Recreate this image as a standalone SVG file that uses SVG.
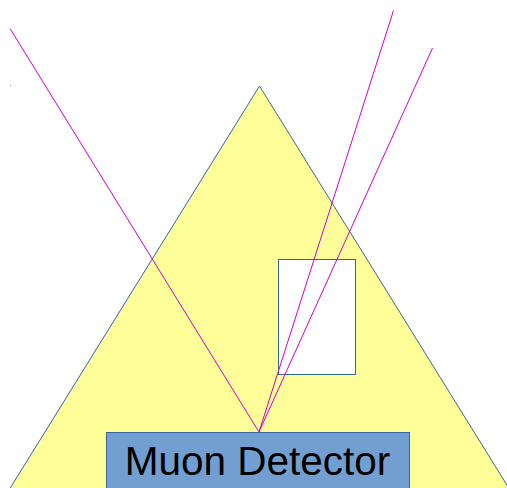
<svg xmlns="http://www.w3.org/2000/svg" width="507" height="488" viewBox="0 0 507 488">
<style>
.shape{stroke:#3465a4;stroke-width:1}
.ray{stroke:#cc00cc;stroke-width:1;fill:none}
.label{font-family:"Liberation Sans",Arial,sans-serif;font-size:40.5px;fill:#000}
</style>
<rect width="507" height="488" fill="#fff"/>
<g id="pyramid"><polygon class="shape" points="259.5,86 9,490 510,490" fill="#ffff99"/></g>
<g id="chamber"><rect class="shape" x="278.5" y="259.5" width="77" height="115" fill="#fff"/></g>
<g id="detector"><rect class="shape" x="106.5" y="432.5" width="303" height="60" fill="#729fcf"/>
<text class="label" x="257.5" y="475" text-anchor="middle">Muon Detector</text></g>
<g id="dot"><rect x="10" y="85" width="1" height="1" fill="#729fcf"/></g>
<g id="connectors">
<line class="ray" x1="10" y1="28.5" x2="259" y2="432"/>
<line class="ray" x1="393.5" y1="10.5" x2="259" y2="432"/>
<line class="ray" x1="432.5" y1="48" x2="259" y2="432"/>
</g>
</svg>
